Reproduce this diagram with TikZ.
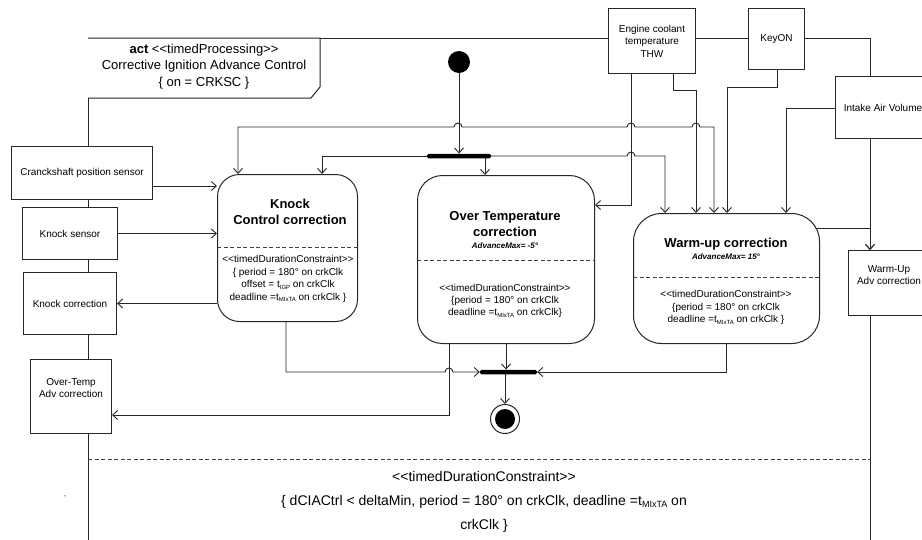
\documentclass[tikz,border=0pt]{standalone}
\usepackage{fontspec}
\setmainfont{Liberation Sans}[Ligatures=TeXOff]
\usetikzlibrary{arrows.meta}
\pgfdeclarelayer{bg}
\pgfsetlayers{bg,main}
\newcommand{\fsmall}{\fontsize{10}{12.4}\selectfont}
\newcommand{\ftitle}{\fontsize{13}{16}\selectfont\bfseries}
\newcommand{\fadv}{\fontsize{8}{9}\selectfont\bfseries\itshape}
\newcommand{\tsb}[1]{\raisebox{-0.3ex}{\fontsize{6}{6}\selectfont #1}}
\newcommand{\tsbig}[1]{\raisebox{-0.3ex}{\fontsize{9}{9}\selectfont #1}}
\tikzset{
  ln/.style={line width=0.9pt, draw=black!85},
  arr/.style={ln, -{Straight Barb[length=5pt,width=9pt]}},
  arrb/.style={ln, {Straight Barb[length=5pt,width=9pt]}-{Straight Barb[length=5pt,width=9pt]}},
  sbox/.style={draw=black!85, line width=1pt, fill=white, inner sep=0pt, anchor=north west, font=\fsmall, align=center},
  abox/.style={draw=black!85, line width=1pt, fill=white, inner sep=0pt, anchor=north west},
  dsh/.style={draw=black!75, line width=1pt, dash pattern=on 4pt off 2.5pt},
  bar/.style={fill=black, inner sep=0pt, rounded corners=1.5pt},
}
\begin{document}
\begin{tikzpicture}[x=1pt,y=-1pt]
\clip (0,0) rectangle (922,539);

% ---------- small boxes ----------
\node[sbox, minimum width=87pt, minimum height=65pt] (coolant) at (608,8) {Engine coolant\\temperature\\THW};
\node[sbox, minimum width=56pt, minimum height=61pt] (keyon) at (748,8) {KeyON};
\node[sbox, minimum width=95pt, minimum height=62pt] (intake) at (835,76) {Intake Air Volume};
\node[sbox, minimum width=81pt, minimum height=65pt] (wadv) at (848,250) {Warm-Up\\Adv correction\\[4pt]};
\node[sbox, minimum width=141pt, minimum height=53pt] (crank) at (11,146) {Cranckshaft position sensor};
\node[sbox, minimum width=95pt, minimum height=52pt] (ksens) at (22,207) {Knock sensor};
\node[sbox, minimum width=93pt, minimum height=62pt] (kcorr) at (23,272) {Knock correction};
\node[sbox, minimum width=81pt, minimum height=74pt] (otadv) at (30,359) {Over-Temp\\Adv correction\\[4pt]};

% ---------- action boxes ----------
\node[abox, rounded corners=22pt, minimum width=140pt, minimum height=147pt] (knock) at (217,174) {};
\node[abox, rounded corners=25pt, minimum width=177pt, minimum height=168pt] (otemp) at (417,175) {};
\node[abox, rounded corners=28pt, minimum width=186pt, minimum height=130pt] (warm) at (633,213) {};

\draw[dsh] (217,247) -- (357,247);
\draw[dsh] (417,260) -- (594,260);
\draw[dsh] (633,277) -- (819,277);

\node[font=\ftitle, align=center] (kt) at (290,212) {Knock\\Control correction};
\node[font=\fsmall, align=center] (kc) at (288,279) {<<timedDurationConstraint>>\\\{ period = 180° on crkClk\\offset = t\tsb{IGP} on crkClk\\deadline =t\tsb{MIxTA} on crkClk \}};

\node[font=\ftitle, align=center] (ott) at (505,224.5) {Over Temperature\\correction};
\node[font=\fadv] (ota) at (505,246) {AdvanceMax= -5°};
\node[font=\fsmall, align=center] (otc) at (505,301) {<<timedDurationConstraint>>\\\{period = 180° on crkClk\\deadline =t\tsb{MIxTA} on crkClk\}};

\node[font=\ftitle] (wt) at (726,244) {Warm-up correction};
\node[font=\fadv] (wa) at (726,257) {AdvanceMax= 15°};
\node[font=\fsmall, align=center] (wc) at (726,307.5) {<<timedDurationConstraint>>\\\{period = 180° on crkClk\\deadline =t\tsb{MIxTA} on crkClk \}};

% ---------- control nodes ----------
\node[circle, fill=black, minimum size=22pt, inner sep=0pt] (init) at (459,62) {};
\node[bar, minimum width=64pt, minimum height=4.5pt] (fork) at (459,156) {};
\node[bar, minimum width=57pt, minimum height=4.5pt] (join) at (508.5,372) {};
\node[circle, draw=black!85, line width=1pt, fill=white, minimum size=29pt, inner sep=0pt] (final) at (505,419) {};
\node[circle, fill=black, minimum size=20pt, inner sep=0pt] (finalin) at (505,419) {};

% ---------- frame label ----------
\draw[ln, line width=1pt, fill=white] (88,38) -- (320,38) -- (320,87) -- (311,98) -- (88,98);
\node[font=\fontsize{13}{16.5}\selectfont, align=center] (lbl) at (204,66.5) {\textbf{act} <<timedProcessing>>\\Corrective Ignition Advance Control\\\{ on = CRKSC \}};

\node[font=\fontsize{14}{24}\selectfont, align=center] (btxt) at (484,502) {<<timedDurationConstraint>>\\\{ dCIACtrl < deltaMin, period = 180° on crkClk, deadline =t\tsbig{MIxTA} on\\crkClk \}};
\node[font=\fontsize{8}{8}\selectfont, text=black!70] (dot) at (65,497) {-};

% ---------- helper coordinates ----------
\coordinate (F0) at (88,38);
\coordinate (X870) at (870,38);
\coordinate (jA) at (238,127);
\coordinate (jB) at (714,127);
\coordinate (fL) at (322,156);
\coordinate (fR) at (665,156);
\coordinate (fo) at (485,156);
\coordinate (cw) at (631,205);
\coordinate (cj1) at (673,90);
\coordinate (cj2) at (696,90);
\coordinate (kj1) at (777,87);
\coordinate (kj2) at (727,87);
\coordinate (ij) at (786,108);
\coordinate (ws) at (816,228);
\coordinate (wj) at (870,228);
\coordinate (Y186) at (0,186);
\coordinate (kb) at (286,372);
\coordinate (wb) at (726,372);
\coordinate (ob) at (449,415);

\begin{pgfonlayer}{bg}
\fill[white] (0,0) rectangle (922,539);
% frame
\draw[ln, line width=1pt] (88,545) -- (F0) -- (F0 -| coolant.west);
\draw[ln, line width=1pt] (coolant.east |- F0) -- (keyon.west |- F0);
\draw[ln, line width=1pt] (keyon.east |- F0) -- (X870) -- (X870 |- intake.north);
\draw[ln, line width=1pt] (X870 |- wadv.south) -- (870,545);
\draw[dsh] (88,459) -- (870,459);

% connectors
\draw[arr] (init.south) -- (fork.north);
\draw[arr] (fork.west) -- (fL) -- (fL |- knock.north);
\draw[arr] (fo) -- (fo |- otemp.north);
\draw[arr] (fork.east) -- (627,156) arc[start angle=180,end angle=0,radius=4pt] -- (fR) -- (fR |- warm.north);
\draw[arrb] (jA |- knock.north) -- (jA) -- (454,127) arc[start angle=180,end angle=0,radius=4pt]
   -- (627,127) arc[start angle=180,end angle=0,radius=4pt]
   -- (692,127) arc[start angle=180,end angle=0,radius=4pt] -- (jB) -- (jB |- warm.north);
\draw[arr] (cw |- coolant.south) -- (cw) -- (cw -| otemp.east);
\draw[arr] (cj1 |- coolant.south) -- (cj1) -- (cj2) -- (cj2 |- warm.north);
\draw[arr] (kj1 |- keyon.south) -- (kj1) -- (kj2) -- (kj2 |- warm.north);
\draw[arr] (ij -| intake.west) -- (ij) -- (ij |- warm.north);
\draw[arr] (ws) -- (wj) -- (wj |- wadv.north);
\draw[arr] (X870 |- intake.south) -- (X870 |- wadv.north);
\draw[arr] (crank.east |- Y186) -- (knock.west |- Y186);
\draw[arr] (ksens.east) -- (ksens.east -| knock.west);
\draw[arr] (kcorr.east -| knock.west) -- (kcorr.east);
\draw[arr] (kb |- knock.south) -- (kb) -- (445,372) arc[start angle=180,end angle=0,radius=4pt] -- (join.west);
\draw[arr] (otemp.south) -- (otemp.south |- join.north);
\draw[arr] (wb |- warm.south) -- (wb) -- (join.east);
\draw[arr] (ob |- otemp.south) -- (ob) -- (ob -| otadv.east);
\draw[arr] (final |- join.south) -- (final.north);
\end{pgfonlayer}
\end{tikzpicture}
\end{document}
